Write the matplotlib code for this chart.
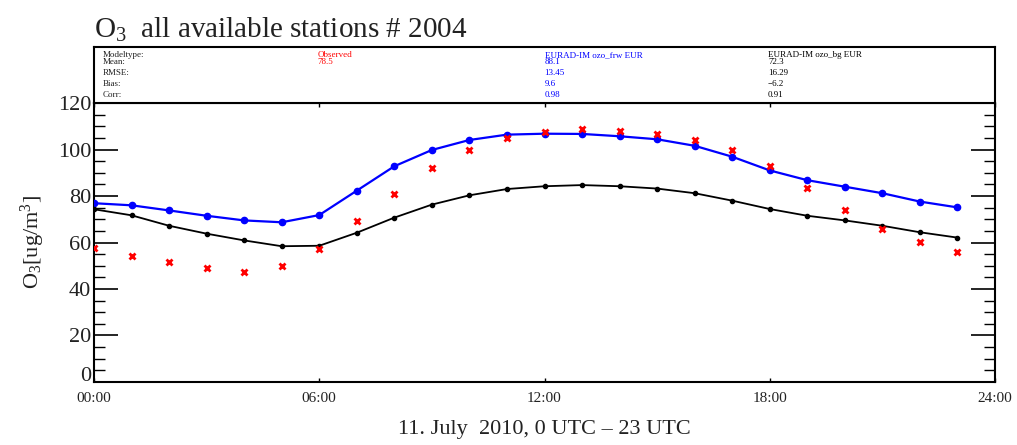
import matplotlib
matplotlib.use('Agg')
import matplotlib.pyplot as plt
import matplotlib.transforms as mtransforms
import numpy as np

# hourly values, 11 July 2010
hours = list(range(24))
observed = [57.5, 54.3, 51.5, 49.0, 47.5, 49.8, 57.3, 69.2, 81.0, 91.9, 99.9, 104.8,
            107.4, 109.0, 108.1, 106.5, 104.2, 99.9, 93.0, 83.3, 73.8, 65.9, 60.2, 56.0]
eurad_frw = [76.9, 76.0, 73.8, 71.5, 69.5, 68.7, 71.8, 82.3, 92.8, 99.8, 104.1, 106.4,
             106.8, 106.7, 105.7, 104.4, 101.6, 96.9, 91.0, 86.8, 84.0, 81.2, 77.6, 75.1]
eurad_bg = [74.3, 71.7, 67.2, 63.8, 60.9, 58.4, 58.6, 64.2, 70.7, 76.3, 80.3, 83.0,
            84.2, 84.7, 84.2, 83.2, 81.2, 78.0, 74.4, 71.5, 69.5, 67.2, 64.4, 62.1]

# stats table
row_labels = ['Modeltype:', 'Mean:', 'RMSE:', 'Bias:', 'Corr:']
col_names = ['Observed', 'EURAD-IM ozo_frw EUR', 'EURAD-IM ozo_bg EUR']
col_stats = [['78.5'], ['88.1', '13.45', '9.6', '0.98'], ['72.3', '16.29', '-6.2', '0.91']]
col_colors = ['red', 'blue', 'black']

xticks = [0, 6, 12, 18, 24]
xtick_labels = ['00:00', '06:00', '12:00', '18:00', '24:00']

plt.rcParams['font.family'] = ['Liberation Serif', 'DejaVu Serif']
plt.rcParams['mathtext.fontset'] = 'custom'
plt.rcParams['mathtext.rm'] = 'Liberation Serif'
plt.rcParams['mathtext.it'] = 'Liberation Serif'
txt = '#222222'

fig = plt.figure(figsize=(10.17, 4.45), dpi=100)
ax = fig.add_axes([0.0924, 0.1416, 0.886, 0.6269])
box = fig.add_axes([0.0924, 0.7685, 0.886, 0.1258])

# main plot
ax.plot(hours, eurad_frw, color='blue', lw=1.6, marker='o', ms=4.5, zorder=3)
ax.plot(hours, eurad_bg, color='black', lw=1.3, marker='o', ms=3, zorder=3)
ax.plot(hours, observed, ls='none', color='red', marker='x', ms=5, mew=2, zorder=4)

ax.set_xlim(0, 24)
ax.set_ylim(0, 120)
ax.set_xticks(xticks)
ax.set_xticklabels(xtick_labels, fontsize=11, color=txt)
ax.set_yticks(np.arange(0, 121, 20))
ax.set_yticks(np.arange(0, 121, 5), minor=True)
ax.tick_params(axis='y', which='major', direction='in', length=17, width=1.2,
               right=True, labelsize=16, labelcolor=txt, pad=2)
ax.tick_params(axis='y', which='minor', direction='in', length=8, width=1.0, right=True)
ax.tick_params(axis='x', which='major', direction='in', length=3, width=1.0,
               top=True, pad=7)
for s in ax.spines.values():
    s.set_linewidth(1.5)

# raise the "0" label a little, like the original
zero_lbl = ax.get_yticklabels()[0]
zero_lbl.set_transform(zero_lbl.get_transform() +
                       mtransforms.ScaledTranslation(0, 6 / 72, fig.dpi_scale_trans))

ax.set_ylabel('O$_3$[ug/m$^3$]', fontsize=16, color=txt, labelpad=8)
ax.set_xlabel('11. July  2010, 0 UTC \u2013 23 UTC', fontsize=16, color=txt, labelpad=11)

# stats box
box.set_xlim(0, 1)
box.set_ylim(0, 1)
box.set_xticks([])
box.set_yticks([])
for s in box.spines.values():
    s.set_linewidth(1.5)

row_y = [0.86, 0.74, 0.53, 0.34, 0.14]
col_x = [0.248, 0.500, 0.748]
for lbl, y in zip(row_labels, row_y):
    box.text(0.01, y, lbl, fontsize=6.5, color=txt, va='center')
for name, stats, c, x in zip(col_names, col_stats, col_colors, col_x):
    box.text(x, row_y[0], name, fontsize=6.5, color=c, va='center')
    for val, y in zip(stats, row_y[1:]):
        box.text(x, y, val.replace('-', '\u2212'), fontsize=6.5, color=c, va='center')

fig.text(0.0924, 0.915, 'O$_3$  all available stations # 2004', fontsize=21, color=txt)

fig.savefig('out.png', dpi=100)
